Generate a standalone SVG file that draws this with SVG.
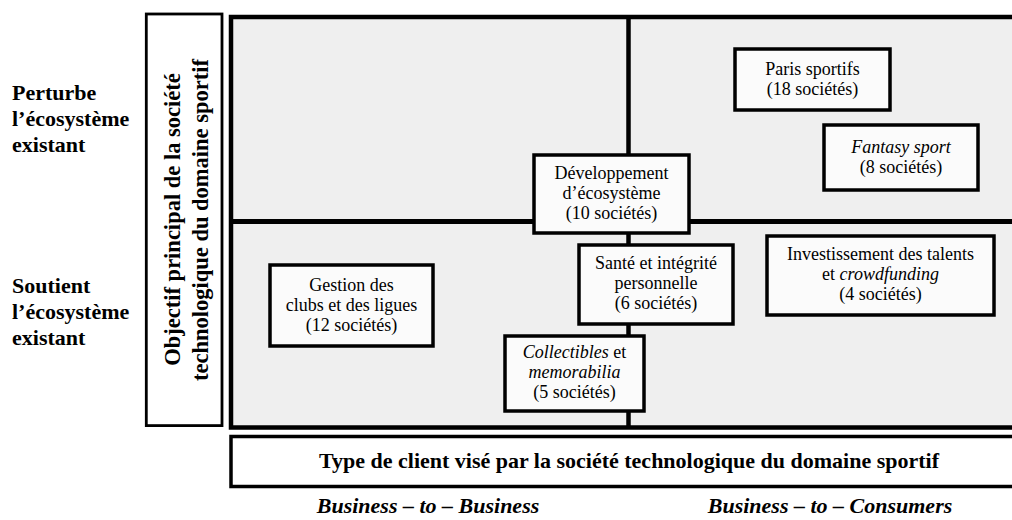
<svg xmlns="http://www.w3.org/2000/svg" width="1012" height="520" viewBox="0 0 1012 520">
<style>
text{font-family:"Liberation Serif","Times New Roman",serif;fill:#000}
.t{font-size:18px;text-anchor:middle;font-weight:400}
.lab{font-size:22px;font-weight:bold}
.vt{font-size:22.5px;font-weight:bold;text-anchor:middle}
.bx{fill:#fbfbfb;stroke:#000;stroke-width:3.5}
.i{font-style:italic}
</style>
<rect width="1012" height="520" fill="#fff"/>
<g id="row-labels">
<text class="lab" x="12" y="100">Perturbe</text>
<text class="lab" x="12" y="126">l’écosystème</text>
<text class="lab" x="12" y="152">existant</text>
<text class="lab" x="12" y="293">Soutient</text>
<text class="lab" x="12" y="319">l’écosystème</text>
<text class="lab" x="12" y="345">existant</text>
</g>
<g id="y-axis">
<rect x="146.3" y="14" width="75.7" height="411.6" fill="#fff" stroke="#000" stroke-width="2.8"/>
<text class="vt" transform="translate(180,219.5) rotate(-90)">Objectif principal de la société</text>
<text class="vt" transform="translate(207.5,220) rotate(-90)">technologique du domaine sportif</text>
</g>
<g id="grid">
<rect x="231" y="17" width="800" height="410.5" fill="#efefef" stroke="#000" stroke-width="4.5"/>
<line x1="231" y1="221.5" x2="1012" y2="221.5" stroke="#000" stroke-width="5"/>
<line x1="628.5" y1="17" x2="628.5" y2="427.5" stroke="#000" stroke-width="4.5"/>
</g>
<g id="paris">
<rect class="bx" x="735" y="49" width="155" height="61"/>
<text class="t" x="812.5" y="75">Paris sportifs</text>
<text class="t" x="812.5" y="95">(18 sociétés)</text>
</g>
<g id="fantasy">
<rect class="bx" x="824" y="125" width="154" height="65"/>
<text class="t i" x="901" y="153">Fantasy sport</text>
<text class="t" x="901" y="173">(8 sociétés)</text>
</g>
<g id="developpement">
<rect class="bx" x="534" y="155" width="155" height="78"/>
<text class="t" x="611.5" y="179">Développement</text>
<text class="t" x="611.5" y="199">d’écosystème</text>
<text class="t" x="611.5" y="219">(10 sociétés)</text>
</g>
<g id="sante">
<rect class="bx" x="579" y="245" width="154" height="79"/>
<text class="t" x="656" y="269">Santé et intégrité</text>
<text class="t" x="656" y="289">personnelle</text>
<text class="t" x="656" y="309">(6 sociétés)</text>
</g>
<g id="investissement">
<rect class="bx" x="767" y="236" width="227" height="79"/>
<text class="t" x="880.5" y="260">Investissement des talents</text>
<text class="t" x="880.5" y="280">et <tspan class="i">crowdfunding</tspan></text>
<text class="t" x="880.5" y="300">(4 sociétés)</text>
</g>
<g id="collectibles">
<rect class="bx" x="505" y="336" width="139" height="75"/>
<text class="t" x="574.5" y="358"><tspan class="i">Collectibles</tspan> et</text>
<text class="t i" x="574.5" y="378">memorabilia</text>
<text class="t" x="574.5" y="398">(5 sociétés)</text>
</g>
<g id="gestion">
<rect class="bx" x="270" y="265" width="163" height="81"/>
<text class="t" x="351.5" y="291">Gestion des</text>
<text class="t" x="351.5" y="311">clubs et des ligues</text>
<text class="t" x="351.5" y="331">(12 sociétés)</text>
</g>
<g id="x-axis">
<rect x="231" y="436.5" width="800" height="50" fill="#fff" stroke="#000" stroke-width="3.5"/>
<text class="lab" x="629" y="468" text-anchor="middle">Type de client visé par la société technologique du domaine sportif</text>
<text class="lab i" x="428" y="513" text-anchor="middle">Business – to – Business</text>
<text class="lab i" x="830" y="513" text-anchor="middle">Business – to – Consumers</text>
</g>
</svg>
